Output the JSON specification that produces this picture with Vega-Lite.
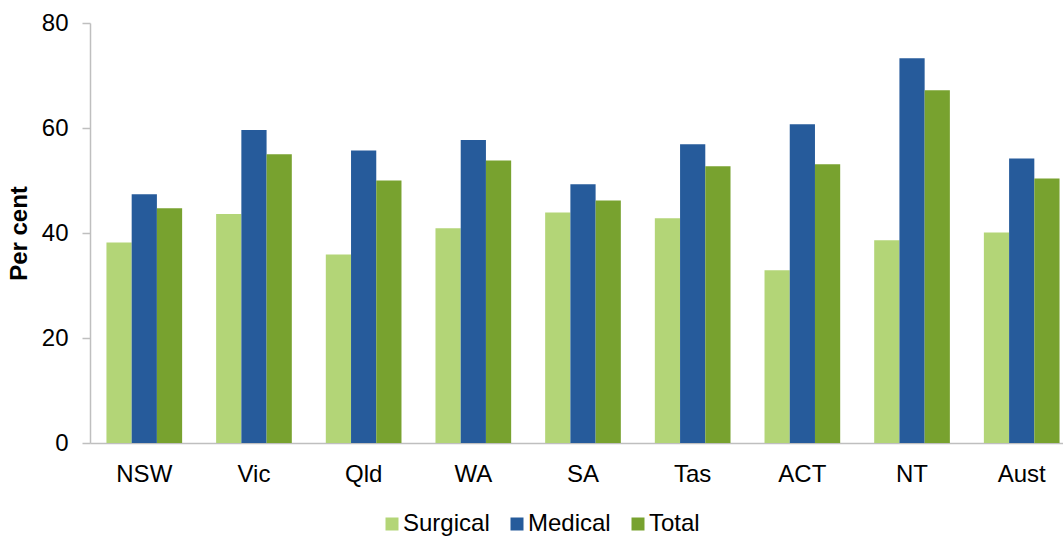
{
  "$schema": "https://vega.github.io/schema/vega-lite/v6.json",
  "width": 973,
  "height": 420,
  "autosize": "none",
  "padding": {"left": 90, "top": 23, "right": 0, "bottom": 93},
  "background": "white",
  "config": {
    "font": "Liberation Sans",
    "view": {"stroke": null},
    "axis": {"grid": false, "labelFont": "Liberation Sans", "titleFont": "Liberation Sans"}
  },
  "data": {
    "values": [
      {"state": "NSW", "series": "Surgical", "value": 38.2},
      {"state": "NSW", "series": "Medical", "value": 47.4},
      {"state": "NSW", "series": "Total", "value": 44.7},
      {"state": "Vic", "series": "Surgical", "value": 43.6},
      {"state": "Vic", "series": "Medical", "value": 59.6},
      {"state": "Vic", "series": "Total", "value": 55.0},
      {"state": "Qld", "series": "Surgical", "value": 35.9},
      {"state": "Qld", "series": "Medical", "value": 55.7},
      {"state": "Qld", "series": "Total", "value": 50.0},
      {"state": "WA", "series": "Surgical", "value": 40.9},
      {"state": "WA", "series": "Medical", "value": 57.7},
      {"state": "WA", "series": "Total", "value": 53.8},
      {"state": "SA", "series": "Surgical", "value": 43.9},
      {"state": "SA", "series": "Medical", "value": 49.3},
      {"state": "SA", "series": "Total", "value": 46.2},
      {"state": "Tas", "series": "Surgical", "value": 42.8},
      {"state": "Tas", "series": "Medical", "value": 56.9},
      {"state": "Tas", "series": "Total", "value": 52.7},
      {"state": "ACT", "series": "Surgical", "value": 32.9},
      {"state": "ACT", "series": "Medical", "value": 60.7},
      {"state": "ACT", "series": "Total", "value": 53.1},
      {"state": "NT", "series": "Surgical", "value": 38.6},
      {"state": "NT", "series": "Medical", "value": 73.3},
      {"state": "NT", "series": "Total", "value": 67.2},
      {"state": "Aust", "series": "Surgical", "value": 40.1},
      {"state": "Aust", "series": "Medical", "value": 54.2},
      {"state": "Aust", "series": "Total", "value": 50.4}
    ]
  },
  "mark": {"type": "bar"},
  "encoding": {
    "x": {
      "field": "state",
      "type": "nominal",
      "sort": ["NSW", "Vic", "Qld", "WA", "SA", "Tas", "ACT", "NT", "Aust"],
      "scale": {"range": [0, 986], "paddingInner": 0.31, "paddingOuter": 0.15},
      "axis": {
        "title": null,
        "labelAngle": 0,
        "labelFontSize": 24,
        "labelColor": "#000000",
        "labelPadding": 19,
        "ticks": false,
        "domainColor": "#BFBFBF",
        "domainWidth": 1.5
      }
    },
    "xOffset": {
      "field": "series",
      "type": "nominal",
      "sort": ["Surgical", "Medical", "Total"],
      "scale": {"paddingInner": 0, "paddingOuter": 0}
    },
    "y": {
      "field": "value",
      "type": "quantitative",
      "scale": {"domain": [0, 80], "nice": false},
      "axis": {
        "title": "Per cent",
        "titleFontSize": 24,
        "titleFontWeight": "bold",
        "titleColor": "#000000",
        "titlePadding": 10,
        "values": [0, 20, 40, 60, 80],
        "labelFontSize": 24,
        "labelColor": "#000000",
        "labelPadding": 14,
        "tickSize": 8,
        "tickColor": "#BFBFBF",
        "domainColor": "#BFBFBF",
        "domainWidth": 1.5,
        "tickWidth": 1.5
      }
    },
    "color": {
      "field": "series",
      "type": "nominal",
      "sort": ["Surgical", "Medical", "Total"],
      "scale": {
        "domain": ["Surgical", "Medical", "Total"],
        "range": ["#B3D577", "#265B9B", "#78A22F"]
      },
      "legend": {
        "title": null,
        "orient": "none",
        "direction": "horizontal",
        "legendX": 290,
        "legendY": 489,
        "symbolType": "square",
        "symbolSize": 169,
        "symbolStrokeWidth": 0,
        "labelFontSize": 24,
        "labelColor": "#000000",
        "labelOffset": -1,
        "columnPadding": 15
      }
    }
  }
}
